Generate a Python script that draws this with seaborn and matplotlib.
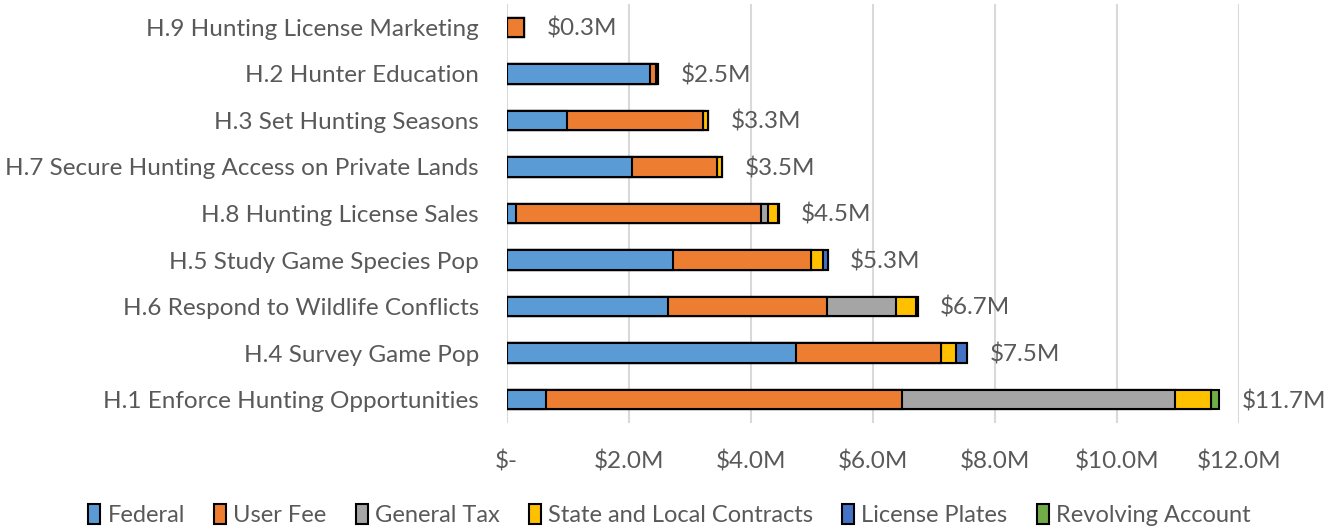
import matplotlib
matplotlib.use("Agg")
import matplotlib.pyplot as plt
import seaborn as sns
import numpy as np
import pandas as pd
from matplotlib.patches import Patch
from matplotlib.ticker import FuncFormatter

# categories, top to bottom
categories = [
    "H.9 Hunting License Marketing",
    "H.2 Hunter Education",
    "H.3 Set Hunting Seasons",
    "H.7 Secure Hunting Access on Private Lands",
    "H.8 Hunting License Sales",
    "H.5 Study Game Species Pop",
    "H.6 Respond to Wildlife Conflicts",
    "H.4 Survey Game Pop",
    "H.1 Enforce Hunting Opportunities",
]

# funding by source, $M
federal = [0.00, 2.35, 0.99, 2.05, 0.16, 2.72, 2.65, 4.74, 0.64]
user_fee = [0.29, 0.10, 2.23, 1.39, 4.00, 2.27, 2.59, 2.38, 5.83]
general_tax = [0.00, 0.00, 0.00, 0.00, 0.12, 0.00, 1.14, 0.00, 4.47]
state_local = [0.00, 0.00, 0.08, 0.09, 0.16, 0.19, 0.33, 0.24, 0.59]
license_plates = [0.00, 0.03, 0.00, 0.00, 0.02, 0.08, 0.02, 0.18, 0.00]
revolving = [0.00, 0.00, 0.00, 0.00, 0.00, 0.00, 0.00, 0.00, 0.14]

series_names = ["Federal", "User Fee", "General Tax", "State and Local Contracts",
                "License Plates", "Revolving Account"]
series_colors = ["#5B9BD5", "#ED7D31", "#A5A5A5", "#FFC000", "#4472C4", "#70AD47"]

df = pd.DataFrame({
    "category": categories,
    "Federal": federal,
    "User Fee": user_fee,
    "General Tax": general_tax,
    "State and Local Contracts": state_local,
    "License Plates": license_plates,
    "Revolving Account": revolving,
})

# cumulative sums so each series can be drawn from zero, biggest first
cum = df[series_names].cumsum(axis=1)
totals = cum[series_names[-1]]

sns.set_theme(style="white")
plt.rcParams["font.family"] = ["Lato", "DejaVu Sans"]
text_color = "#595959"

fig = plt.figure(figsize=(13.39, 5.29), dpi=100)
ax = fig.add_axes([0.3784, 0.2004, 0.5472, 0.792])

for name, color in reversed(list(zip(series_names, series_colors))):
    sns.barplot(x=cum[name], y=df["category"], orient="h", color=color,
                saturation=1, errorbar=None, width=0.42,
                edgecolor="black", linewidth=1.5, ax=ax)

# total labels
for i, tot in enumerate(totals):
    ax.annotate(f"${tot:.1f}M", xy=(tot, i), xytext=(16, -1),
                textcoords="offset points", ha="left", va="center",
                fontsize=17.5, color=text_color, annotation_clip=False)

ax.set_xlim(0, 12)
ax.set_ylim(8.5, -0.5)
ax.set_xticks(np.arange(0, 13, 2))
ax.xaxis.set_major_formatter(FuncFormatter(
    lambda v, p: "$-" if v == 0 else f"${v:.1f}M"))
ax.grid(axis="x", color="#D9D9D9", linewidth=1.5)
ax.grid(axis="y", visible=False)
ax.set_axisbelow(True)
for s in ax.spines.values():
    s.set_visible(False)
ax.set_xlabel("")
ax.set_ylabel("")
ax.tick_params(axis="x", length=0, pad=20, labelsize=17.5, labelcolor=text_color)
ax.tick_params(axis="y", length=0, pad=20, labelsize=17.5, labelcolor=text_color)

handles = [Patch(facecolor=c, edgecolor="black", linewidth=1.5, label=n)
           for n, c in zip(series_names, series_colors)]
fig.legend(handles=handles, loc="lower center", bbox_to_anchor=(0.5, -0.035),
           ncol=6, frameon=False, fontsize=17, labelcolor=text_color,
           handlelength=0.5, handleheight=0.9, handletextpad=0.3,
           columnspacing=1.25)

fig.savefig("out.png", dpi=100)
